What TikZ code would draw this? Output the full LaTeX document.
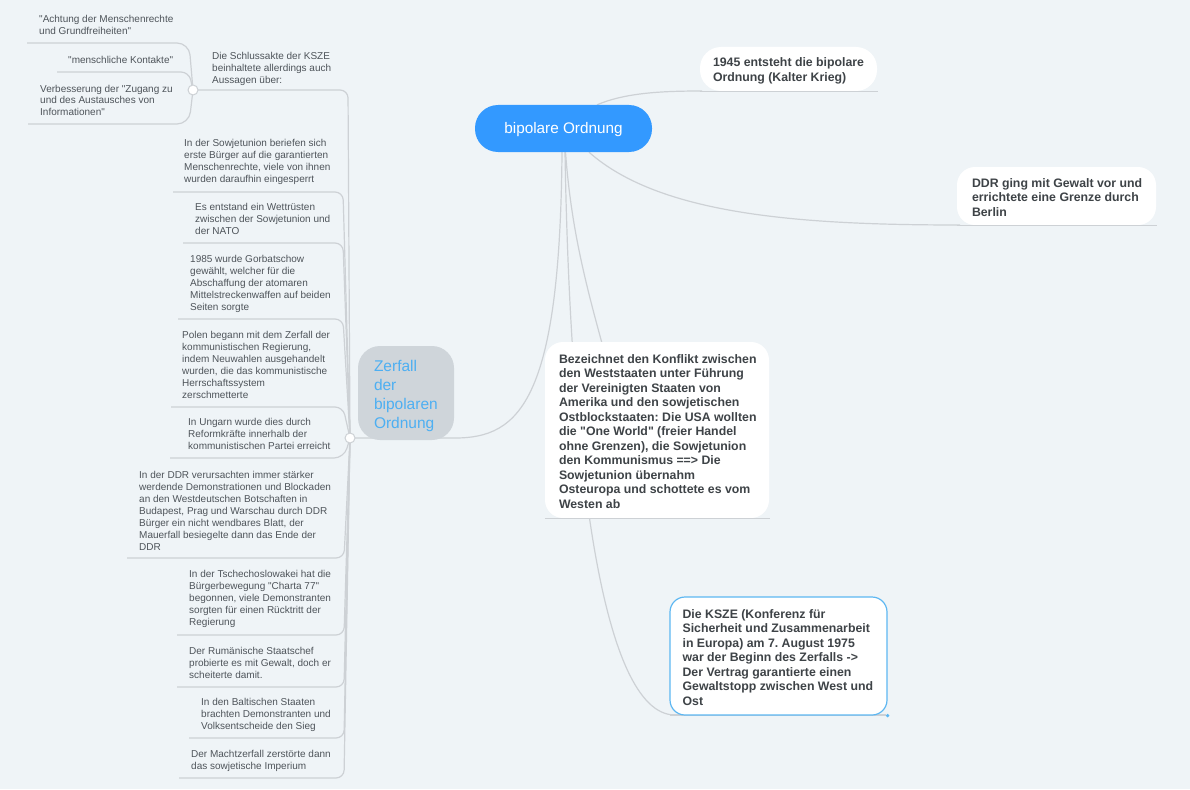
\documentclass[tikz,border=0pt]{standalone}
\usepackage{fontspec}
\setmainfont{Liberation Sans}[Ligatures=TeXOff]
\frenchspacing
\definecolor{bg}{HTML}{EFF4F7}
\definecolor{rootblue}{HTML}{3399FF}
\definecolor{lin}{HTML}{CDD1D5}
\definecolor{txt}{HTML}{3E4347}
\definecolor{ltxt}{HTML}{4E545A}
\definecolor{zgray}{HTML}{CFD5DA}
\definecolor{ztxt}{HTML}{4DAFF2}
\definecolor{kblue}{HTML}{5DB7F2}
\pgfdeclarelayer{bgl}
\pgfsetlayers{bgl,main}
\tikzset{
  conn/.style={draw=lin, line width=1.2pt},
  wbox/.style={fill=white, inner sep=0pt, draw=none},
  btxt/.style={font=\bfseries\fontsize{12.3}{14.5}\selectfont, text=txt, align=left, inner sep=0pt, anchor=west},
  ltx/.style={font=\fontsize{10}{12}\selectfont, text=ltxt, align=left, inner sep=0pt, anchor=base west},
  hubnode/.style={circle, fill=white, draw=lin, line width=1pt, minimum size=10pt, inner sep=0pt},
}
\begin{document}
\begin{tikzpicture}[x=1pt,y=-1pt]
\useasboundingbox (0,0) rectangle (1190,789);

% ---------- root ----------
\node[wbox, rounded corners=23pt, fill=rootblue, minimum width=177pt, minimum height=47pt] (root) at (563.5,128.5) {};
\node[text=white, font=\fontsize{15.3}{18}\selectfont, inner sep=0pt] (troot) at ([yshift=-1.5pt]root.center) {bipolare Ordnung};

\coordinate (hubA) at (350,438);
\coordinate (hubB) at (193,90);

% ---------- boxes ----------
\node[wbox, rounded corners=21pt, minimum width=177pt, minimum height=44pt] (b1945) at (788.5,69) {};
\node[btxt] (t1945) at ([xshift=13pt,yshift=-2pt]b1945.west) {1945 entsteht die bipolare\\Ordnung (Kalter Krieg)};

\node[wbox, rounded corners=18pt, minimum width=199pt, minimum height=58pt] (bddr) at (1056.5,196) {};
\node[btxt] (tddr) at ([xshift=15pt,yshift=-1.5pt]bddr.west) {DDR ging mit Gewalt vor und\\errichtete eine Grenze durch\\Berlin};

\node[wbox, rounded corners=18pt, minimum width=224pt, minimum height=176pt] (bbez) at (657,430) {};
\node[btxt] (tbez) at ([xshift=14pt,yshift=-1.5pt]bbez.west) {Bezeichnet den Konflikt zwischen\\den Weststaaten unter Führung\\der Vereinigten Staaten von\\Amerika und den sowjetischen\\Ostblockstaaten: Die USA wollten\\die "One World" (freier Handel\\ohne Grenzen), die Sowjetunion\\den Kommunismus ==> Die\\Sowjetunion übernahm\\Osteuropa und schottete es vom\\Westen ab};

\draw[conn] (670,715) -- (886,715);
\node[wbox, rounded corners=15pt, draw=kblue, line width=1.2pt, minimum width=217pt, minimum height=118pt] (bksze) at (778.5,656) {};
\node[btxt] (tksze) at ([xshift=13pt,yshift=-1.5pt]bksze.west) {Die KSZE (Konferenz für\\Sicherheit und Zusammenarbeit\\in Europa) am 7. August 1975\\war der Beginn des Zerfalls ->\\Der Vertrag garantierte einen\\Gewaltstopp zwischen West und\\Ost};
\fill[kblue] (bksze.south east) circle (1.8pt);

\node[wbox, rounded corners=22pt, fill=zgray, minimum width=96pt, minimum height=94pt] (bzer) at (406,393) {};
\node[anchor=west, align=left, inner sep=0pt, text=ztxt, font=\fontsize{15.5}{19}\selectfont] (tzer) at ([xshift=16pt,yshift=-2.5pt]bzer.west) {Zerfall\\der\\bipolaren\\Ordnung};

% ---------- connectors (behind) ----------
\begin{pgfonlayer}{bgl}
\fill[bg] (0,0) rectangle (1190,789);
\draw[conn] ([xshift=-1.5pt]root.south) .. controls (560,400) and (520,438) .. (455,438) -- (hubA);
\draw[conn] ([xshift=1.5pt]root.south) .. controls (570,450) and (600,715) .. (675,715);
\draw[conn] ([xshift=2pt]root.south) .. controls (572,240) and (590,300) .. (615,390);
\draw[conn] ([xshift=33.5pt]root.north) .. controls (625,93) and (660,91) .. (702,91);
\draw[conn] ([xshift=25.5pt]root.south) .. controls (660,215) and (800,225) .. (960,225);

\draw[conn, rounded corners=8pt] (hubA) -- (348,90) -- (hubB);
\draw[conn, rounded corners=8pt] (hubA) -- (343,192) -- (173,192);
\draw[conn, rounded corners=8pt] (hubA) -- (343,243) -- (183,243);
\draw[conn, rounded corners=8pt] (hubA) -- (343,319) -- (178,319);
\draw[conn, rounded corners=8pt] (hubA) -- (343,407) -- (171,407);
\draw[conn, rounded corners=10pt] (hubA) -- (344,458) -- (170,458);
\draw[conn, rounded corners=8pt] (hubA) -- (344,558) -- (127,558);
\draw[conn, rounded corners=8pt] (hubA) -- (344,635) -- (177,635);
\draw[conn, rounded corners=8pt] (hubA) -- (344,687) -- (177,687);
\draw[conn, rounded corners=8pt] (hubA) -- (344,738) -- (189,738);
\draw[conn, rounded corners=8pt] (hubA) -- (344,778) -- (179,778);

\draw[conn, rounded corners=12pt] (hubB) -- (189,43) -- (27,43);
\draw[conn, rounded corners=8pt] (hubB) -- (189,72) -- (57,72);
\draw[conn, rounded corners=12pt] (hubB) -- (189,124) -- (28,124);
\end{pgfonlayer}

% ---------- underlines ----------
\draw[conn] (b1945.south west) -- ([xshift=1pt]b1945.south east);
\draw[conn] (bddr.south west) -- ([xshift=1pt]bddr.south east);
\draw[conn] (bbez.south west) -- ([xshift=1pt]bbez.south east);

% ---------- hubs ----------
\node[hubnode] (hA) at (hubA) {};
\node[hubnode] (hB) at (hubB) {};

% ---------- left texts (anchored at last baseline) ----------
\node[ltx] (sa) at (212,83.5) {Die Schlussakte der KSZE\\beinhaltete allerdings auch\\Aussagen über:};
\node[ltx] (a1) at (39,34.5) {"Achtung der Menschenrechte\\und Grundfreiheiten"};
\node[ltx] (a2) at (68,63.5) {"menschliche Kontakte"};
\node[ltx] (a3) at (40,116) {Verbesserung der "Zugang zu\\und des Austausches von\\Informationen"};

\node[ltx] (l1) at (184,182.5) {In der Sowjetunion beriefen sich\\erste Bürger auf die garantierten\\Menschenrechte, viele von ihnen\\wurden daraufhin eingesperrt};
\node[ltx] (l2) at (195,234.5) {Es entstand ein Wettrüsten\\zwischen der Sowjetunion und\\der NATO};
\node[ltx] (l3) at (190,310.5) {1985 wurde Gorbatschow\\gewählt, welcher für die\\Abschaffung der atomaren\\Mittelstreckenwaffen auf beiden\\Seiten sorgte};
\node[ltx] (l4) at (182,398.5) {Polen begann mit dem Zerfall der\\kommunistischen Regierung,\\indem Neuwahlen ausgehandelt\\wurden, die das kommunistische\\Herrschaftssystem\\zerschmetterte};
\node[ltx] (l5) at (188,449.8) {In Ungarn wurde dies durch\\Reformkräfte innerhalb der\\kommunistischen Partei erreicht};
\node[ltx] (l6) at (139,550.2) {In der DDR verursachten immer stärker\\werdende Demonstrationen und Blockaden\\an den Westdeutschen Botschaften in\\Budapest, Prag und Warschau durch DDR\\Bürger ein nicht wendbares Blatt, der\\Mauerfall besiegelte dann das Ende der\\DDR};
\node[ltx] (l7) at (189,625.8) {In der Tschechoslowakei hat die\\Bürgerbewegung "Charta 77"\\begonnen, viele Demonstranten\\sorgten für einen Rücktritt der\\Regierung};
\node[ltx] (l8) at (189,678.2) {Der Rumänische Staatschef\\probierte es mit Gewalt, doch er\\scheiterte damit.};
\node[ltx] (l9) at (201,729.8) {In den Baltischen Staaten\\brachten Demonstranten und\\Volksentscheide den Sieg};
\node[ltx] (l10) at (191,769.8) {Der Machtzerfall zerstörte dann\\das sowjetische Imperium};
\end{tikzpicture}
\end{document}
